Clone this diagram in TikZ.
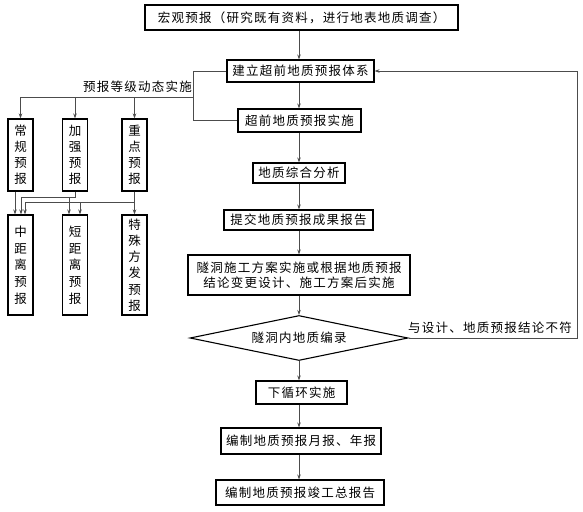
\documentclass[tikz,border=0pt]{standalone}
\usepackage{fontspec}
\newfontfamily\cjk[LetterSpace=10]{Noto Sans CJK SC}
\newfontfamily\cjkv{Noto Sans CJK SC}
\usetikzlibrary{shapes.geometric,arrows.meta}
\begin{document}
\begin{tikzpicture}[x=1pt,y=-1pt,
  box/.style={draw=black,line width=1.1pt,inner sep=0pt,font=\cjk\fontsize{12.5}{15}\selectfont,align=center},
  vbox/.style={draw=black,line width=1.1pt,inner sep=0pt,font=\cjkv\fontsize{12.5}{16}\selectfont,align=center,minimum width=25pt},
  ln/.style={draw=black!70,line width=0.8pt},
  arr/.style={ln,-{Stealth[length=5pt,width=3.5pt]}},
  lbl/.style={font=\cjk\fontsize{12.5}{15}\selectfont,inner sep=0pt}]
\useasboundingbox (0,0) rectangle (583,511);
% main column
\node[box,minimum width=313pt,minimum height=25pt] (top) at (301.5,17.5) {宏观预报（研究既有资料，进行地表地质调查）};
\node[box,minimum width=147pt,minimum height=22pt] (jl) at (300.5,71) {建立超前地质预报体系};
\node[box,minimum width=123pt,minimum height=23pt] (ss) at (299.5,120.5) {超前地质预报实施};
\node[box,minimum width=92pt,minimum height=20pt] (zh) at (299,173) {地质综合分析};
\node[box,minimum width=149pt,minimum height=20pt] (tj) at (298.5,220) {提交地质预报成果报告};
\node[box,minimum width=222pt,minimum height=40pt,font=\cjk\fontsize{12.5}{14.5}\selectfont] (sd) at (299,275) {隧洞施工方案实施或根据地质预报\\结论变更设计、施工方案后实施};
\node[draw=black,line width=1.1pt,diamond,aspect=4.8,minimum width=218pt,minimum height=45pt,inner sep=0pt,font=\cjk\fontsize{12.5}{15}\selectfont] (dia) at (299,338) {隧洞内地质编录};
\node[box,minimum width=91pt,minimum height=23pt] (xx) at (301.5,392.5) {下循环实施};
\node[box,minimum width=160pt,minimum height=26pt] (yb) at (301,441) {编制地质预报月报、年报};
\node[box,minimum width=168pt,minimum height=25pt] (jg) at (300,492.5) {编制地质预报竣工总报告};
% main arrows
\coordinate (ax) at (299,0);
\draw[arr] (top.south -| ax) -- (jl.north -| ax);
\draw[arr] (jl.south -| ax) -- (ss.north -| ax);
\draw[arr] (ss.south -| ax) -- (zh.north -| ax);
\draw[arr] (zh.south -| ax) -- (tj.north -| ax);
\draw[arr] (tj.south -| ax) -- (sd.north -| ax);
\draw[arr] (sd.south -| ax) -- (dia.north -| ax);
\draw[arr] (dia.south -| ax) -- (xx.north -| ax);
\draw[arr] (xx.south -| ax) -- (yb.north -| ax);
\draw[arr] (yb.south -| ax) -- (jg.north -| ax);
% feedback
\coordinate (fr) at (577,0);
\draw[arr] (dia.east) -- (dia.east -| fr) -- (jl.east -| fr) -- (jl.east);
\node[lbl,anchor=south] (fb) at (490,334) {与设计、地质预报结论不符};
% left boxes
\node[vbox,minimum height=72pt] (cg) at (20.5,155) {常\\规\\预\\报};
\node[vbox,minimum height=72pt] (jq) at (75,155) {加\\强\\预\\报};
\node[vbox,minimum height=72pt] (zd) at (134.5,155) {重\\点\\预\\报};
\node[vbox,minimum height=100pt,font=\cjkv\fontsize{12.5}{16.7}\selectfont] (zj) at (20.5,265) {中\\距\\离\\预\\报};
\node[vbox,minimum height=100pt,font=\cjkv\fontsize{12.5}{16.7}\selectfont] (dj) at (75,265) {短\\距\\离\\预\\报};
\node[vbox,minimum height=100pt,font=\cjkv\fontsize{12.5}{16.2}\selectfont] (ts) at (134.5,265) {特\\殊\\方\\发\\预\\报};
% branch from 建立 to 实施
\coordinate (bx) at (193,0);
\coordinate (hy) at (0,97);
\draw[ln] (jl.west) -- (jl.west -| bx) -- (ss.west -| bx) -- (ss.west);
\node[lbl,anchor=south east] (djl) at (192,93) {预报等级动态实施};
\draw[ln] (bx |- hy) -- (cg.north |- hy);
\draw[arr] (cg.north |- hy) -- (cg.north);
\draw[arr] (jq.north |- hy) -- (jq.north);
\draw[arr] (zd.north |- hy) -- (zd.north);
% lower connectors
\coordinate (c15) at (15,0);
\coordinate (c21) at (21,0);
\coordinate (c25) at (25,0);
\coordinate (c69) at (69,0);
\coordinate (c80) at (80,0);
\coordinate (h1) at (0,197);
\coordinate (h2) at (0,202);
\draw[arr] (cg.south -| c15) -- (zj.north -| c15);
\draw[ln] (jq.south) -- (jq.south |- h1) -- (c21 |- h1);
\draw[arr] (c21 |- h1) -- (zj.north -| c21);
\draw[arr] (c69 |- h1) -- (dj.north -| c69);
\draw[arr] (zd.south) -- (ts.north);
\draw[ln] (zd.south |- h2) -- (c25 |- h2);
\draw[arr] (c25 |- h2) -- (zj.north -| c25);
\draw[arr] (c80 |- h2) -- (dj.north -| c80);
\end{tikzpicture}
\end{document}
